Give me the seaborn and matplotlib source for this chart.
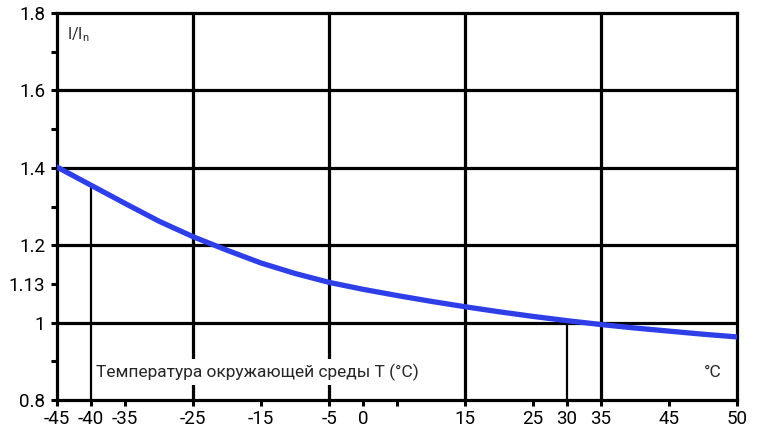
import numpy as np
import pandas as pd
import matplotlib
matplotlib.use("Agg")
import matplotlib.pyplot as plt
import seaborn as sns

# curve (x in the chart's own axis units)
temp = [-45, -40, -35, -30, -25, -20, -15, -10, -5, 0, 5, 10,
        15, 20, 25, 30, 35, 40, 45, 50, 55]
ratio = [1.402, 1.355, 1.308, 1.262, 1.222, 1.187, 1.154, 1.127, 1.104, 1.086, 1.070, 1.055,
         1.041, 1.028, 1.016, 1.005, 0.995, 0.986, 0.978, 0.970, 0.963]

x_ticks = [-45, -40, -35, -25, -15, -5, 0, 5, 15, 25, 30, 35, 45, 55]
x_labels = ['-45', '-40', '-35', '-25', '-15', '-5', '0', '', '15', '25', '30', '35', '45', '50']
y_ticks = [0.8, 0.9, 1.0, 1.10, 1.2, 1.3, 1.4, 1.5, 1.6, 1.7, 1.8]
y_labels = ['0.8', '', '1', '1.13', '1.2', '', '1.4', '', '1.6', '', '1.8']

grid_x = [-25, -5, 15, 35]
grid_y = [1.0, 1.2, 1.4, 1.6]
marker_x = [-40, 30]
marker_top = [1.356, 1.0]

sns.set_theme(style="white")
plt.rcParams['font.family'] = ['Roboto', 'DejaVu Sans']

fig = plt.figure(figsize=(7.63, 4.30), dpi=100)
ax = fig.add_axes([57/763, 30/430, 680/763, 387/430])

# thick grid
for gx in grid_x:
    ax.axvline(gx, color='black', lw=2.3, zorder=1)
for gy in grid_y:
    ax.axhline(gy, color='black', lw=2.3, zorder=1)
# thin reference lines down to the curve
ax.vlines(marker_x, 0.8, marker_top, color='black', lw=1.6, zorder=2.5)

df = pd.DataFrame({'T': temp, 'I': ratio})
sns.lineplot(data=df, x='T', y='I', color='#2f3fe8', lw=3.8, ax=ax, zorder=3)

ax.set_xlim(-45, 55)
ax.set_ylim(0.8, 1.8)
ax.set_xticks(x_ticks)
ax.set_xticklabels(x_labels)
ax.set_yticks(y_ticks)
ax.set_yticklabels(y_labels)
ax.set_xlabel('')
ax.set_ylabel('')
ax.tick_params(axis='both', direction='out', length=4.5, width=2.2, colors='black',
               labelsize=13.5, bottom=True, left=True)
ax.tick_params(axis='x', pad=3)
ax.tick_params(axis='y', pad=4)
for s in ax.spines.values():
    s.set_color('black')
    s.set_linewidth(2.3)

ax.text(-39.2, 0.872, 'Температура окружающей среды T (°C)', fontsize=12.5,
        ha='left', va='center', zorder=2,
        bbox=dict(facecolor='white', edgecolor='none', pad=3))
ax.text(52.8, 0.872, '°C', fontsize=12.5, ha='right', va='center')
ax.text(-43.6, 1.745, r'I/I$_\mathregular{n}$', fontsize=11.5, ha='left', va='center')

fig.savefig('out.png', dpi=100)
